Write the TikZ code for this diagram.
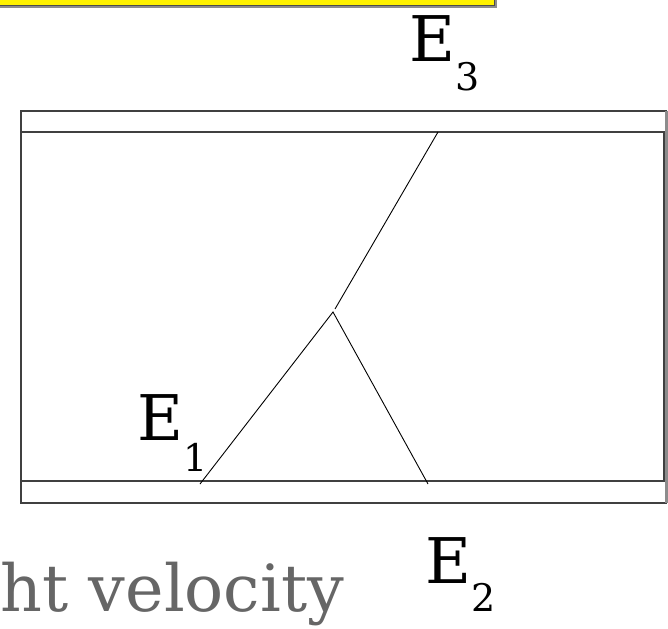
\documentclass[tikz,border=0pt]{standalone}
\usepackage{fontspec}
\setmainfont{DejaVu Serif}
\begin{document}
\begin{tikzpicture}[x=1pt,y=-1pt,
  frame/.style={draw=black!75,line width=1.2pt},
  edgeline/.style={draw=black,line width=0.9pt},
  lab/.style={inner sep=0pt,anchor=base west,font=\fontsize{63}{70}\selectfont}]
\useasboundingbox (0,0) rectangle (668,628);
% yellow banner (cut at top)
\fill[black!45] (-5,-5) rectangle (497,8.5);
\filldraw[fill=yellow,draw=black!70,line width=1pt] (-5,-5) rectangle (494,6);
% frames
\draw[frame] (21,111) rectangle (666,503);
\draw[frame] (21,132) -- (664,132) -- (664,481) -- (21,481);
\draw[draw=black!45,line width=2.5pt] (666.5,111) -- (666.5,503);
% junction lines
\coordinate (top) at (438,132);
\coordinate (mid) at (335,309);
\coordinate (apex) at (333,312);
\coordinate (bl) at (200,484);
\coordinate (br) at (428,484);
\draw[edgeline] (top) -- (mid);
\draw[edgeline] (bl) -- (apex) -- (br);
% labels
\node[lab] (e3) at (409,62) {E\raisebox{-29pt}{\fontsize{38}{40}\selectfont 3}};
\node[lab] (e1) at (137,440) {E\raisebox{-31pt}{\fontsize{38}{40}\selectfont 1}};
\node[lab] (e2) at (425,583) {E\raisebox{-28pt}{\fontsize{38}{40}\selectfont 2}};
\node[lab,text=black!60,font=\fontsize{65}{70}\selectfont] (vel) at (0,611) {ht velocity};
\end{tikzpicture}
\end{document}
